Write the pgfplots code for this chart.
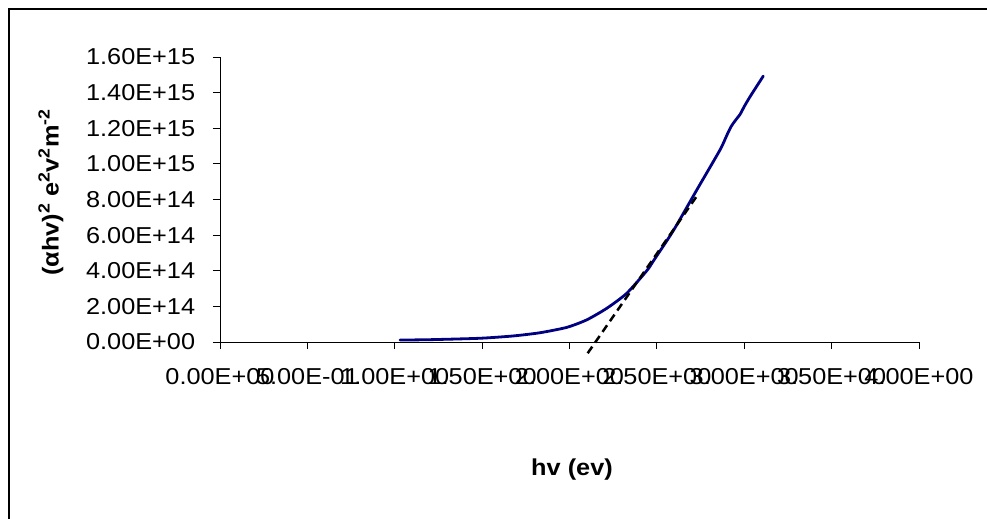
\documentclass[border=0pt]{standalone}
\usepackage{pgfplots}
\pgfplotsset{compat=1.18}
\usepackage{fontspec}
\setmainfont{Liberation Sans}[FakeStretch=1.1]
\begin{document}
\fontsize{23bp}{27bp}\selectfont
\begin{tikzpicture}
\useasboundingbox (0,0) rectangle (987bp,519bp);
\draw[line width=2.4bp] (9bp,-20bp) -- (9bp,510bp) -- (1010bp,510bp);
\begin{axis}[
  at={(220bp,177bp)}, anchor=south west,
  scale only axis, width=699bp, height=285bp,
  xmin=0, xmax=4, ymin=0, ymax=1.6e15,
  axis x line=bottom, axis y line=left,
  axis line style={-, line width=0.9bp},
  clip=false,
  scaled y ticks=false, scaled x ticks=false,
  xtick={0,0.5,1,1.5,2,2.5,3,3.5,4},
  xticklabels={0.00E+00,5.00E-01,1.00E+00,1.50E+00,2.00E+00,2.50E+00,3.00E+00,3.50E+00,4.00E+00},
  ytick={0,2e14,4e14,6e14,8e14,1e15,1.2e15,1.4e15,1.6e15},
  yticklabels={0.00E+00,2.00E+14,4.00E+14,6.00E+14,8.00E+14,1.00E+15,1.20E+15,1.40E+15,1.60E+15},
  tick align=outside, major tick length=7bp,
  tick style={black, line width=0.9bp},
  tick label style={font=\fontsize{23bp}{27bp}\selectfont},
  xticklabel style={yshift=-12bp},
  yticklabel style={xshift=-10bp},
  xlabel={hv (ev)},
  ylabel={(αhv)\textsuperscript{2} e\textsuperscript{2}v\textsuperscript{2}m\textsuperscript{-2}},
  xlabel style={at={(axis description cs:0.5036,-0.449)}, anchor=center, font=\fontsize{23bp}{27bp}\selectfont\bfseries},
  ylabel style={at={(axis description cs:-0.242,0.525)}, anchor=center, font=\fontsize{23bp}{27bp}\selectfont\bfseries},
]
\addplot[color={rgb,255:red,0;green,0;blue,128}, line width=2.8bp, line join=round, line cap=round, smooth, tension=0.4] coordinates {
(1.030,0.011e15) (1.200,0.013e15) (1.488,0.021e15) (1.678,0.034e15)
(1.831,0.052e15) (1.984,0.082e15) (2.098,0.124e15) (2.213,0.189e15)
(2.327,0.273e15) (2.442,0.400e15) (2.480,0.455e15) (2.594,0.625e15)
(2.728,0.853e15) (2.861,1.078e15) (2.900,1.160e15) (2.925,1.210e15)
(2.950,1.245e15) (2.976,1.278e15) (3.000,1.322e15) (3.033,1.377e15)
(3.109,1.493e15)
};
\addplot[black, line width=2.5bp, dash pattern=on 8bp off 5bp] coordinates {
(2.104,-0.063e15) (2.737,0.831e15)
};
\end{axis}
\end{tikzpicture}
\end{document}
